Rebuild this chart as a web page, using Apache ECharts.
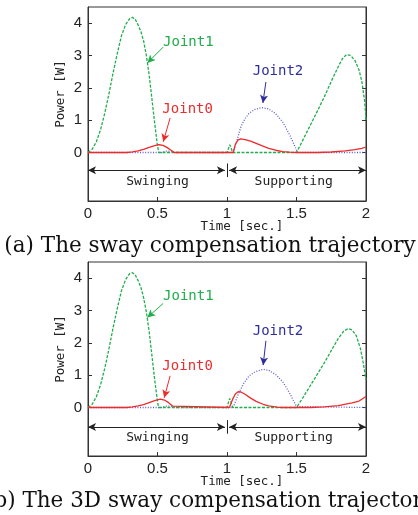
<!DOCTYPE html>
<html><head><meta charset="utf-8">
<script src="https://cdn.jsdelivr.net/npm/echarts@6/dist/echarts.min.js"></script>
<style>html,body{margin:0;padding:0;background:#fff}#c{width:418px;height:515px}</style>
</head><body><div id="c"></div>
<script>
// ---------- data ----------
const xTicks = [0, 0.5, 1, 1.5, 2];
const yTicks = [0, 1, 2, 3, 4];

// (a) sway compensation trajectory
const aJoint1 = [[0,0],[0.03,0.1],[0.06,0.33],[0.09,0.7],[0.12,1.2],[0.15,1.8],[0.18,2.45],[0.21,3.05],[0.24,3.6],[0.27,3.95],[0.30,4.14],[0.32,4.18],[0.34,4.12],[0.36,3.95],[0.38,3.75],[0.40,3.45],[0.42,3.0],[0.44,2.4],[0.46,1.65],[0.48,0.9],[0.50,0.2],[0.51,0],
  [1.0,0],[1.01,0.12],[1.02,0.24],[1.03,0.14],[1.04,0],[1.5,0],[1.55,0.42],[1.6,0.85],[1.65,1.28],[1.7,1.72],[1.75,2.2],[1.8,2.65],[1.83,2.9],[1.86,3.03],[1.89,3.0],[1.92,2.85],[1.95,2.55],[1.97,2.2],[1.99,1.6],[2.0,1.0]];
const aJoint0 = [[0,0],[0.28,0],[0.32,0.02],[0.36,0.05],[0.40,0.1],[0.44,0.16],[0.48,0.21],[0.51,0.24],[0.54,0.22],[0.57,0.15],[0.60,0.06],[0.62,0],
  [1.045,0],[1.06,0.25],[1.08,0.39],[1.1,0.42],[1.13,0.40],[1.17,0.35],[1.21,0.28],[1.25,0.21],[1.3,0.13],[1.35,0.07],[1.4,0.03],[1.45,0.01],[1.5,0],[1.65,0],[1.75,0.015],[1.85,0.05],[1.92,0.09],[1.97,0.13],[2.0,0.17]];
const aJoint2 = [[0,0],[0.53,0],[0.56,0.04],[0.6,0.04],[0.62,0],[1.045,0],[1.08,0.5],[1.1,0.8],[1.13,1.05],[1.16,1.22],[1.2,1.33],[1.25,1.39],[1.3,1.35],[1.35,1.2],[1.4,0.95],[1.45,0.55],[1.5,0.08],[1.507,0],[2.0,0]];

// (b) 3D sway compensation trajectory
const bJoint1 = [[0,0],[0.03,0.1],[0.06,0.33],[0.09,0.7],[0.12,1.2],[0.15,1.8],[0.18,2.45],[0.21,3.05],[0.24,3.6],[0.27,3.95],[0.30,4.14],[0.32,4.17],[0.34,4.1],[0.36,3.93],[0.38,3.72],[0.40,3.4],[0.42,2.95],[0.44,2.35],[0.46,1.6],[0.48,0.85],[0.50,0.18],[0.508,0],
  [1.0,0],[1.01,0.15],[1.02,0.28],[1.03,0.15],[1.04,0],[1.5,0],[1.55,0.33],[1.6,0.68],[1.65,1.03],[1.7,1.38],[1.75,1.76],[1.8,2.13],[1.84,2.36],[1.87,2.44],[1.9,2.4],[1.93,2.22],[1.96,1.82],[1.98,1.38],[2.0,0.85]];
const bJoint0 = [[0,0],[0.28,0],[0.32,0.02],[0.36,0.05],[0.40,0.09],[0.44,0.15],[0.48,0.21],[0.52,0.26],[0.55,0.23],[0.58,0.15],[0.61,0.04],[0.62,0],
  [1.017,0],[1.04,0.25],[1.06,0.42],[1.08,0.49],[1.1,0.48],[1.13,0.41],[1.17,0.29],[1.21,0.19],[1.26,0.1],[1.3,0.05],[1.36,0.01],[1.4,0],[1.6,0],[1.7,0.02],[1.8,0.06],[1.9,0.14],[1.95,0.2],[2.0,0.34]];
const bJoint2 = [[0,0],[0.53,0],[0.56,0.04],[0.6,0.04],[0.62,0],[1.045,0],[1.08,0.4],[1.12,0.75],[1.16,0.98],[1.2,1.1],[1.26,1.18],[1.3,1.15],[1.35,1.02],[1.4,0.8],[1.45,0.45],[1.5,0.03],[1.505,0],[2.0,0]];

const captions = ['(a) The sway compensation trajectory', '(b) The 3D sway compensation trajectory'];
const seriesNames = ['Joint0', 'Joint1', 'Joint2'];

// ---------- styles ----------
const C0 = '#ee2b2b', C1 = '#1fae4b', C2 = '#5b5bd0', C2T = '#2e2e9c';
const MONO = '"DejaVu Sans Mono", monospace';
const SANS = '"Liberation Sans", Arial, sans-serif';
const SERIF = '"DejaVu Serif", serif';

const chart = echarts.init(document.getElementById('c'), null, {renderer: 'canvas'});

const grids = [
  {left: 88, top: 7, width: 278, height: 194},
  {left: 88, top: 262, width: 278, height: 194}
];

function xAxis(i) {
  return {
    type: 'value', gridIndex: i, min: 0, max: 2, interval: 0.5,
    axisLine: {show: true, onZero: false, lineStyle: {color: '#333', width: 1}},
    axisTick: {show: true, inside: true, length: 4, lineStyle: {color: '#333'}},
    axisLabel: {color: '#222', fontSize: 15, fontFamily: SANS, margin: 5},
    splitLine: {show: false}
  };
}
function yAxis(i, pos) {
  return {
    type: 'value', gridIndex: i, min: -1.5, max: 4.5, position: pos,
    axisLine: {show: true, onZero: false, lineStyle: {color: '#333', width: 1}},
    axisTick: {show: true, inside: true, length: 4, customValues: yTicks, lineStyle: {color: '#333'}},
    axisLabel: {show: pos === 'left', color: '#222', fontSize: 15, fontFamily: SANS, margin: 6, customValues: yTicks},
    splitLine: {show: false}
  };
}

function arrowLine(from, to, color, sym) {
  return {
    type: 'line', data: [], silent: true,
    markLine: {
      silent: true, animation: false, symbol: sym, symbolSize: [6, 8],
      label: {show: false}, lineStyle: {color: color, width: 1, type: 'solid'},
      data: [[{coord: from}, {coord: to}]]
    }
  };
}

function panelSeries(i, j0, j1, j2, ann) {
  const base = {xAxisIndex: i, yAxisIndex: i * 2, showSymbol: false, symbol: 'none', animation: false, silent: true};
  const out = [
    Object.assign({}, base, {type: 'line', name: seriesNames[2], data: j2, lineStyle: {color: C2, width: 1.3, type: [1, 1.6]}}),
    Object.assign({}, base, {type: 'line', name: seriesNames[1], data: j1, lineStyle: {color: C1, width: 1.3, type: [3, 1.5]}}),
    Object.assign({}, base, {type: 'line', name: seriesNames[0], data: j0, lineStyle: {color: C0, width: 1.3}})
  ];
  const arrows = [
    [ann.j1a, ann.j1b, C1, ['none', 'arrow']],
    [ann.j0a, ann.j0b, C0, ['none', 'arrow']],
    [ann.j2a, ann.j2b, C2T, ['none', 'arrow']],
    [[0, ann.hy], [0.985, ann.hy], '#222', ['arrow', 'arrow']],
    [[1.015, ann.hy], [2, ann.hy], '#222', ['arrow', 'arrow']],
    [[1, ann.hy + 0.21], [1, ann.hy - 0.21], '#222', ['none', 'none']]
  ];
  arrows.forEach(a => {
    const s = arrowLine(a[0], a[1], a[2], a[3]);
    s.xAxisIndex = i; s.yAxisIndex = i * 2;
    out.push(s);
  });
  return out;
}

const annA = {j1a: [0.541, 3.26], j1b: [0.427, 2.77], j0a: [0.591, 1.07], j0b: [0.541, 0.33], j2a: [1.28, 2.18], j2b: [1.258, 1.53], hy: -0.55,
  t1: [0.54, 3.42], t0: [0.535, 1.34], t2: [1.185, 2.51], ty: -0.91};
const annB = {j1a: [0.541, 3.22], j1b: [0.427, 2.78], j0a: [0.591, 0.98], j0b: [0.548, 0.3], j2a: [1.28, 2.06], j2b: [1.26, 1.31], hy: -0.6,
  t1: [0.54, 3.43], t0: [0.535, 1.26], t2: [1.185, 2.34], ty: -0.93};

chart.setOption({
  backgroundColor: '#fff',
  animation: false,
  grid: grids.map(g => Object.assign({show: true, borderColor: '#333', borderWidth: 1, backgroundColor: 'transparent'}, g)),
  xAxis: [xAxis(0), xAxis(1)],
  yAxis: [yAxis(0, 'left'), yAxis(0, 'right'), yAxis(1, 'left'), yAxis(1, 'right')],
  series: [].concat(panelSeries(0, aJoint0, aJoint1, aJoint2, annA), panelSeries(1, bJoint0, bJoint1, bJoint2, annB))
});

// ---------- text annotations placed in data space ----------
function px(i, p) { return chart.convertToPixel({xAxisIndex: i, yAxisIndex: i * 2}, p); }
const g = [];
[annA, annB].forEach((ann, i) => {
  const off = i * 255;
  const p1 = px(i, ann.t1), p0 = px(i, ann.t0), p2 = px(i, ann.t2);
  g.push({type: 'text', x: p1[0], y: p1[1], style: {text: seriesNames[1], fill: C1, font: '14px ' + MONO, textAlign: 'left', textVerticalAlign: 'middle'}});
  g.push({type: 'text', x: p0[0], y: p0[1], style: {text: seriesNames[0], fill: C0, font: '14px ' + MONO, textAlign: 'left', textVerticalAlign: 'middle'}});
  g.push({type: 'text', x: p2[0], y: p2[1], style: {text: seriesNames[2], fill: C2T, font: '14px ' + MONO, textAlign: 'left', textVerticalAlign: 'middle'}});
  const ps = px(i, [0.5, ann.ty]), pp = px(i, [1.48, ann.ty]);
  g.push({type: 'text', x: ps[0], y: ps[1], style: {text: 'Swinging', fill: '#222', font: '13px ' + MONO, textAlign: 'center', textVerticalAlign: 'middle'}});
  g.push({type: 'text', x: pp[0], y: pp[1], style: {text: 'Supporting', fill: '#222', font: '13px ' + MONO, textAlign: 'center', textVerticalAlign: 'middle'}});
  g.push({type: 'text', x: 242, y: 227 + off, style: {text: 'Time [sec.]', fill: '#222', font: '12.5px ' + MONO, textAlign: 'center', textVerticalAlign: 'middle'}});
  g.push({type: 'text', x: 61, y: 94 + off, rotation: Math.PI / 2, style: {text: 'Power [W]', fill: '#222', font: '12.5px ' + MONO, textAlign: 'center', textVerticalAlign: 'middle'}});
  g.push({type: 'text', x: 210, y: 246 + off, style: {text: captions[i], fill: '#111', font: '21.5px ' + SERIF, textAlign: 'center', textVerticalAlign: 'middle'}});
});
chart.setOption({graphic: g});
</script>
</body></html>
